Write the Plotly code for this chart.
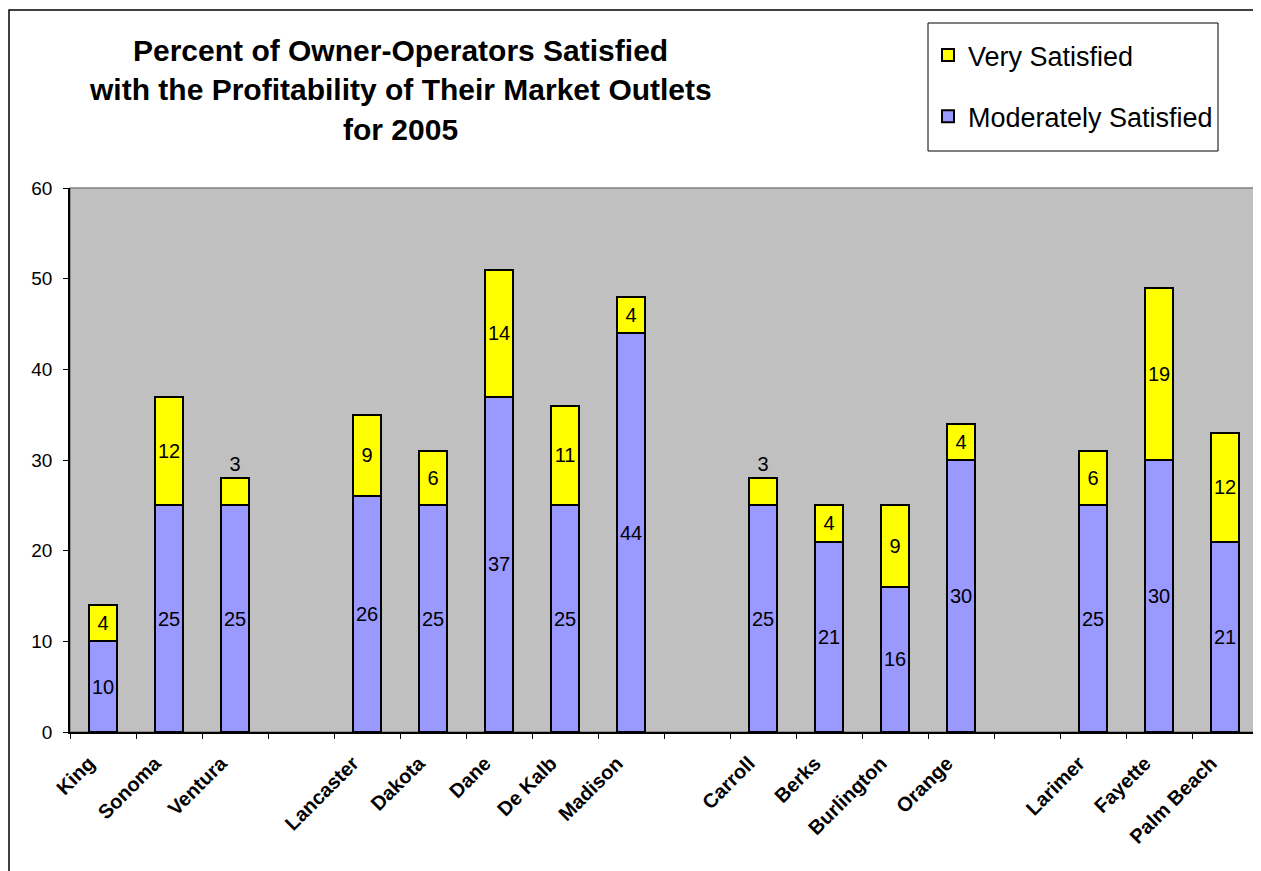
import plotly.graph_objects as go

# blank strings are the spacer slots between the county groups
counties = ["King", "Sonoma", "Ventura", " ",
            "Lancaster", "Dakota", "Dane", "De Kalb", "Madison", "  ",
            "Carroll", "Berks", "Burlington", "Orange", "   ",
            "Larimer", "Fayette", "Palm Beach"]
moderately = [10, 25, 25, None, 26, 25, 37, 25, 44, None,
              25, 21, 16, 30, None, 25, 30, 21]
very = [4, 12, 3, None, 9, 6, 14, 11, 4, None,
        3, 4, 9, 4, None, 6, 19, 12]
title_lines = ["Percent of Owner-Operators Satisfied",
               "with the Profitability of Their Market Outlets",
               "for 2005"]

font = "Liberation Sans, Arial, sans-serif"

# the page body has an 8px margin, so the figure is drawn 8px in from the corner
W, H = 1253, 863

fig = go.Figure()
fig.add_trace(go.Bar(
    x=counties, y=moderately, name="Moderately Satisfied",
    marker=dict(color="#9999FF", line=dict(color="black", width=2)),
    text=moderately, textposition="inside", insidetextanchor="middle",
    textangle=0, constraintext="none", textfont=dict(size=20, color="black"),
    legendgroup="m", legendrank=2,
))
fig.add_trace(go.Bar(
    x=counties, y=very, name="Very Satisfied",
    marker=dict(color="#FFFF00", line=dict(color="black", width=2)),
    text=very,
    # the small 3s sit above their bars in the original
    textposition=["outside" if v == 3 else "inside" for v in very],
    insidetextanchor="middle", textangle=0, constraintext="none",
    textfont=dict(size=20, color="black"),
    legendgroup="v", legendrank=1,
))

def px_x(p):
    return (p - 70) / 1188

def px_y(p):
    return (732 - p) / 544

# title lines placed one by one to get the wider line spacing of the original
title_centres = [50, 89, 130]
annotations = [
    dict(text=t, xref="paper", yref="paper", x=px_x(400), y=px_y(c),
         xanchor="center", yanchor="middle", showarrow=False,
         font=dict(family=font, size=30, color="black", weight="bold"))
    for t, c in zip(title_lines, title_centres)
]

fig.update_layout(
    width=W, height=H,
    barmode="stack", bargap=0.59,
    margin=dict(l=62, r=3, t=180, b=139),
    paper_bgcolor="white", plot_bgcolor="#C0C0C0",
    font=dict(family=font, color="black"),
    annotations=annotations,
    legend=dict(
        x=px_x(928), xanchor="left", y=px_y(31), yanchor="top",
        bgcolor="rgba(0,0,0,0)", borderwidth=0,
        font=dict(size=27), tracegroupgap=23,
    ),
    shapes=[
        # chart frame
        dict(type="rect", xref="paper", yref="paper",
             x0=px_x(9), x1=1, y0=px_y(900), y1=px_y(10),
             line=dict(color="black", width=1.5), layer="above"),
        # legend box
        dict(type="rect", xref="paper", yref="paper",
             x0=px_x(928), x1=px_x(1218), y0=px_y(151), y1=px_y(23),
             line=dict(color="black", width=1), fillcolor="white", layer="below"),
        # plot area border
        dict(type="rect", xref="paper", yref="paper",
             x0=0, x1=1, y0=0, y1=1,
             line=dict(color="#808080", width=1.5), layer="below"),
    ],
)

fig.update_xaxes(
    type="category", tickangle=-45, tickson="boundaries",
    ticks="outside", ticklen=5, tickcolor="black",
    ticklabelshift=-14, ticklabelstandoff=10,
    showline=True, linecolor="black", linewidth=1.5,
    showgrid=False,
    tickfont=dict(family=font, size=20, color="black", weight="bold"),
)
fig.update_yaxes(
    range=[0, 60], dtick=10,
    ticks="outside", ticklen=5, tickcolor="black",
    ticklabelstandoff=7,
    showline=True, linecolor="black", linewidth=1.5,
    showgrid=False, zeroline=False,
    tickfont=dict(family=font, size=19, color="black"),
)

fig.write_html("out.html")
